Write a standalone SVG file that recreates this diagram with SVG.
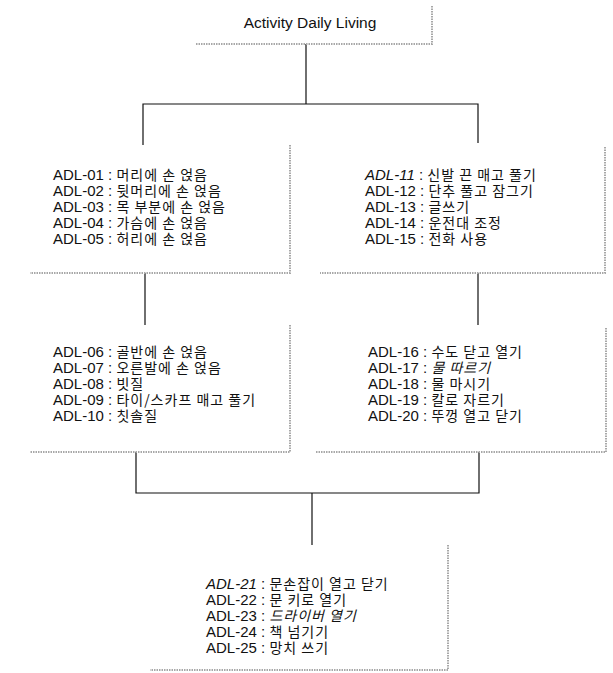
<svg xmlns="http://www.w3.org/2000/svg" width="613" height="673" viewBox="0 0 613 673">
<style>
.sh{fill:none;stroke:#a8a8a8;stroke-width:2;stroke-dasharray:1.5 1}
.cn{fill:none;stroke:#111;stroke-width:1.2}
.t{font-family:"Liberation Sans",Arial,"Noto Sans CJK KR",sans-serif;font-size:15px;fill:#111}
.k{font-family:"Noto Sans CJK KR","Liberation Sans",sans-serif;font-size:14px;letter-spacing:1px}
.i{font-style:italic}
.title{font-family:"Liberation Sans",Arial,sans-serif;font-size:15.5px;fill:#111}
</style>
<rect width="613" height="673" fill="#fff"/>
<g id="connectors">
<path class="cn" d="M306 44V104M143 145V104H478V143"/>
<path class="cn" d="M145 273V325M478 273V325"/>
<path class="cn" d="M136 452V493H479V452M312 493V545"/>
</g>
<g id="title">
<path class="sh" d="M432 6V44H196"/>
<text class="title" x="310" y="28" text-anchor="middle">Activity Daily Living</text>
</g>
<g id="group1">
<path class="sh" d="M290 145V273H30"/>
<text class="t"><tspan x="53" y="180">ADL-01 : </tspan><tspan class="k">머리에 손 얹음</tspan><tspan x="53" y="196">ADL-02 : </tspan><tspan class="k">뒷머리에 손 얹음</tspan><tspan x="53" y="212">ADL-03 : </tspan><tspan class="k">목 부분에 손 얹음</tspan><tspan x="53" y="228">ADL-04 : </tspan><tspan class="k">가슴에 손 얹음</tspan><tspan x="53" y="244">ADL-05 : </tspan><tspan class="k">허리에 손 얹음</tspan></text>
</g>
<g id="group2">
<path class="sh" d="M605 147V273H320"/>
<text class="t"><tspan x="365" y="180" class="i">ADL-11</tspan><tspan> : </tspan><tspan class="k">신발 끈 매고 풀기</tspan><tspan x="365" y="196">ADL-12 : </tspan><tspan class="k">단추 풀고 잠그기</tspan><tspan x="365" y="212">ADL-13 : </tspan><tspan class="k">글쓰기</tspan><tspan x="365" y="228">ADL-14 : </tspan><tspan class="k">운전대 조정</tspan><tspan x="365" y="244">ADL-15 : </tspan><tspan class="k">전화 사용</tspan></text>
</g>
<g id="group3">
<path class="sh" d="M290 325V452H30"/>
<text class="t"><tspan x="53" y="357">ADL-06 : </tspan><tspan class="k">골반에 손 얹음</tspan><tspan x="53" y="373">ADL-07 : </tspan><tspan class="k">오른발에 손 얹음</tspan><tspan x="53" y="389">ADL-08 : </tspan><tspan class="k">빗질</tspan><tspan x="53" y="405">ADL-09 : </tspan><tspan class="k">타이/스카프 매고 풀기</tspan><tspan x="53" y="421">ADL-10 : </tspan><tspan class="k">칫솔질</tspan></text>
</g>
<g id="group4">
<path class="sh" d="M606 328V452H315"/>
<text class="t"><tspan x="368" y="357">ADL-16 : </tspan><tspan class="k">수도 닫고 열기</tspan><tspan x="368" y="373">ADL-17 : </tspan><tspan class="k i">물 따르기</tspan><tspan x="368" y="389">ADL-18 : </tspan><tspan class="k">물 마시기</tspan><tspan x="368" y="405">ADL-19 : </tspan><tspan class="k">칼로 자르기</tspan><tspan x="368" y="421">ADL-20 : </tspan><tspan class="k">뚜껑 열고 닫기</tspan></text>
</g>
<g id="group5">
<path class="sh" d="M448 545V670H150"/>
<text class="t"><tspan x="206" y="589" class="i">ADL-21</tspan><tspan> : </tspan><tspan class="k">문손잡이 열고 닫기</tspan><tspan x="206" y="605">ADL-22 : </tspan><tspan class="k">문 키로 열기</tspan><tspan x="206" y="621">ADL-23 : </tspan><tspan class="k i">드라이버 열기</tspan><tspan x="206" y="637">ADL-24 : </tspan><tspan class="k">책 넘기기</tspan><tspan x="206" y="653">ADL-25 : </tspan><tspan class="k">망치 쓰기</tspan></text>
</g>
</svg>
